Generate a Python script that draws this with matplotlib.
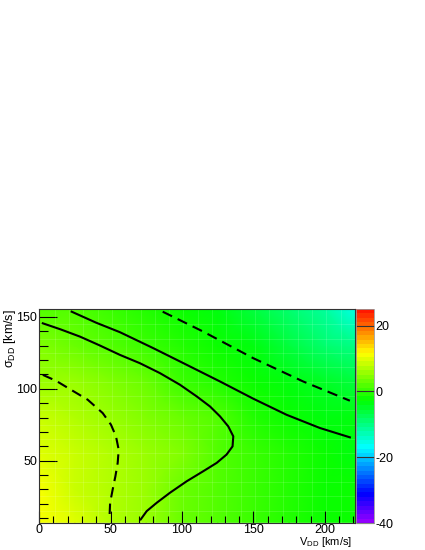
import colorsys
import numpy as np
import matplotlib
matplotlib.use("Agg")
import matplotlib.pyplot as plt
from matplotlib.colors import ListedColormap
from matplotlib.ticker import MultipleLocator

plt.rcParams['font.family'] = ['Liberation Sans', 'DejaVu Sans']

# heat map grid (estimated values)
vdd = [0, 25, 50, 75, 100, 125, 150, 175, 200, 221]
sdd = [7, 30, 55, 80, 105, 130, 155]
z = [
    [11.0, 9.2, 7.6, 5.3, 3.0, 1.3, 0.0, -1.0, -1.7, -2.2],
    [10.6, 8.8, 7.0, 5.3, 3.4, 1.8, 0.2, -1.0, -1.9, -2.4],
    [9.7, 8.3, 7.0, 5.5, 4.1, 2.3, 0.4, -1.0, -2.2, -2.9],
    [8.3, 7.4, 6.0, 4.6, 3.0, 1.3, -0.5, -1.9, -3.1, -4.0],
    [6.4, 5.5, 4.1, 2.7, 1.1, -0.5, -2.2, -3.5, -5.2, -6.6],
    [4.1, 3.2, 1.8, 0.6, -0.8, -2.2, -3.8, -5.9, -8.2, -10.3],
    [2.3, 1.3, 0.2, -0.8, -1.9, -3.3, -5.6, -8.6, -12.1, -15.6],
]

# contour curves
solid1_x = [22.8, 40.0, 56.6, 79.9, 103.3, 126.6, 149.9, 173.2, 196.5, 217.5]
solid1_y = [153.7, 146.0, 139.4, 128.3, 116.7, 105.1, 93.1, 81.9, 72.7, 66.2]
solid2_x = [2.6, 15.0, 28.7, 42.0, 56.6, 70.6, 84.6, 98.6, 110.3, 119.6, 126.6, 132.4, 135.9,
            135.4, 131.2, 124.3, 114.9, 103.3, 91.6, 82.3, 75.3, 71.1]
solid2_y = [145.6, 141.4, 136.3, 130.4, 123.6, 117.8, 110.9, 102.8, 94.7, 87.7, 80.8, 73.8, 66.9,
            59.9, 54.2, 48.4, 42.6, 35.6, 27.6, 20.6, 14.8, 9.0]
dash1_x = [2.6, 12.0, 22.0, 34.0, 44.5, 50.3, 53.8, 55.7, 55.0, 53.4, 51.5, 49.7, 49.2]
dash1_y = [109.7, 105.5, 99.5, 92.4, 83.1, 75.0, 66.9, 57.6, 48.4, 39.1, 29.9, 20.6, 9.0]
dash2_x = [86.5, 114.9, 149.9, 184.8, 217.5]
dash2_y = [153.7, 139.8, 121.3, 105.1, 91.7]

zmin, zmax = -40, 25

# ROOT "pretty" palette: HLS hue 280 -> 0
cols = [colorsys.hls_to_rgb((280 - (i + 1) * 5.6) / 360.0, 0.5, 1.0) for i in range(49)]
cmap = ListedColormap(cols)

fig = plt.figure(figsize=(4.25, 5.5), dpi=100)
ax = fig.add_axes([0.092, 0.049, 0.743, 0.389])
cax = fig.add_axes([0.838, 0.049, 0.042, 0.389])

mesh = ax.pcolormesh(vdd, sdd, np.array(z), cmap=cmap, vmin=zmin, vmax=zmax,
                     shading='gouraud', rasterized=True)

# faint bin lines
for xv in np.arange(11, 221, 10):
    ax.axvline(xv, color='white', lw=0.6, alpha=0.15)
for yv in np.arange(15, 155, 10):
    ax.axhline(yv, color='white', lw=0.6, alpha=0.15)

lw = 1.5
ax.plot(solid1_x, solid1_y, color='black', lw=lw, solid_joinstyle='round')
ax.plot(solid2_x, solid2_y, color='black', lw=lw, solid_joinstyle='round')
ax.plot(dash1_x, dash1_y, color='black', lw=lw, dashes=(5, 3))
ax.plot(dash2_x, dash2_y, color='black', lw=lw, dashes=(5, 3))

ax.set_xlim(0, 221)
ax.set_ylim(6.5, 155.5)
ax.xaxis.set_major_locator(MultipleLocator(50))
ax.xaxis.set_minor_locator(MultipleLocator(10))
ax.yaxis.set_major_locator(MultipleLocator(50))
ax.yaxis.set_minor_locator(MultipleLocator(10))
ax.tick_params(axis='x', which='major', direction='in', length=9, width=0.8, labelsize=9, pad=0.5)
ax.tick_params(axis='x', which='minor', direction='in', length=4.7, width=0.8)
ax.tick_params(axis='y', which='major', direction='in', length=13, width=0.8, labelsize=9, pad=1.5)
ax.tick_params(axis='y', which='minor', direction='in', length=6.5, width=0.8)
for s in ax.spines.values():
    s.set_linewidth(0.8)
    s.set_color('#333333')

# axis titles, ROOT style (right / top aligned)
fig.text(0.828, 0.002, r'V$_{\mathregular{DD}}$ [km/s]', fontsize=8, ha='right', va='bottom')
fig.text(0.004, 1 - 309 / 550, 'σ$_{\\mathregular{DD}}$ [km/s]', fontsize=9,
         rotation=90, ha='left', va='top')

cb = fig.colorbar(mesh, cax=cax)
cb.set_ticks([-40, -20, 0, 20])
cb.set_ticklabels(['-40', '-20', '0', '20'])
cb.ax.tick_params(direction='in', length=13, width=0.8, labelsize=9, pad=1, color='#333333')
cb.outline.set_linewidth(0.6)
cb.outline.set_edgecolor('#999999')

fig.savefig('out.png', dpi=100)
